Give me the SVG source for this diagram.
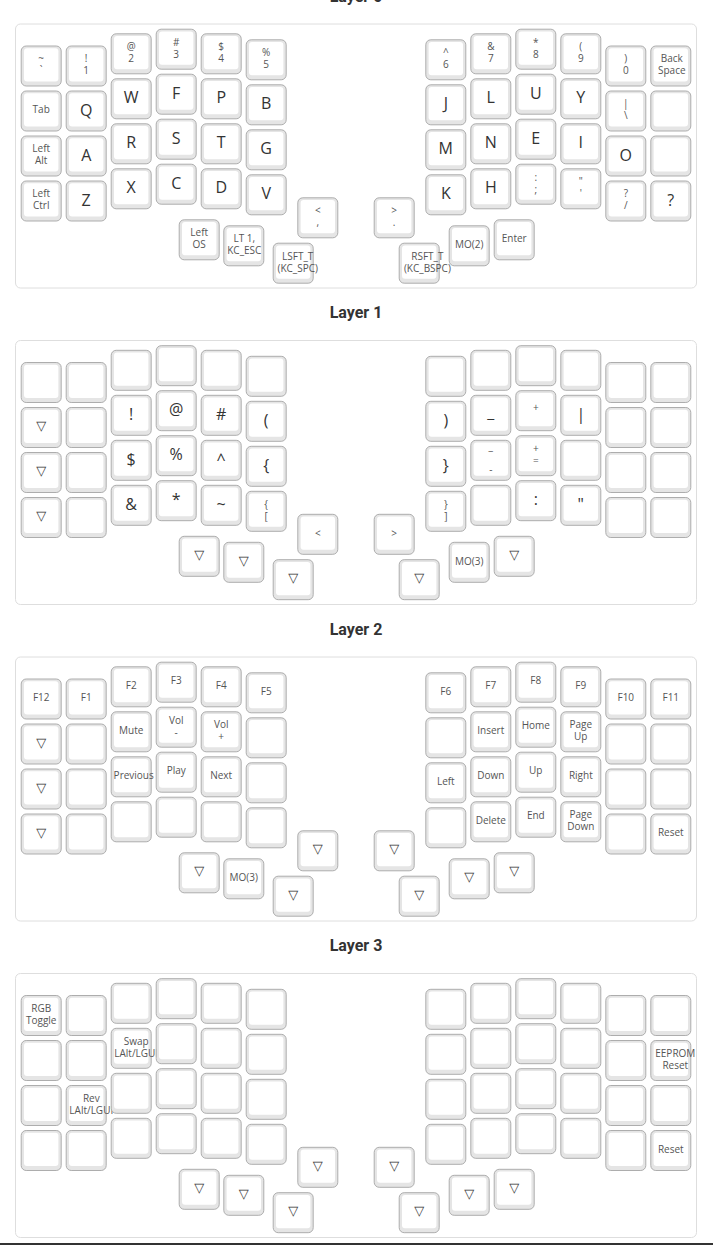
<svg xmlns="http://www.w3.org/2000/svg" xmlns:xlink="http://www.w3.org/1999/xlink" width="713" height="1245" viewBox="0 0 713 1245">
<style>
.panel{fill:#fff;stroke:#dedede;stroke-width:1}
.ko{fill:#e5e5e5;stroke:#adadad;stroke-width:1}
.ki{fill:#fff}
.title{font-family:Roboto,'Liberation Sans',sans-serif;font-weight:bold;font-size:16px;fill:#333;text-anchor:middle}
.lg{font-family:'Open Sans','Liberation Sans',sans-serif;font-size:16px;fill:#333;text-anchor:middle}
.sm{font-family:'Open Sans','Liberation Sans',sans-serif;font-size:10px;fill:#555;text-anchor:middle}
.tri{font-family:'DejaVu Sans',sans-serif;font-size:13px;fill:#333;text-anchor:middle}
</style>
<defs>
<g id="key"><rect class="ko" x="0.5" y="0.5" width="40" height="40" rx="5"/><rect class="ki" x="3.3" y="2.7" width="34.4" height="33.3" rx="3"/></g>
</defs>
<rect x="0" y="1243" width="713" height="2" fill="#333"/>

<g id="layer0">
<text class="title" x="356" y="1.5">Layer 0</text>
<rect class="panel" x="15.5" y="24" width="681" height="264" rx="5"/>
<g id="l0-c1r1" transform="translate(20.7,45.5)"><use href="#key"/><text class="sm" x="20.5" y="16.9">~</text><text class="sm" x="20.5" y="28.9">`</text></g>
<g id="l0-c1r2" transform="translate(20.7,90.5)"><use href="#key"/><text class="sm" x="20.5" y="22.8">Tab</text></g>
<g id="l0-c1r3" transform="translate(20.7,135.5)"><use href="#key"/><text class="sm" x="20.5" y="16.9">Left</text><text class="sm" x="20.5" y="28.9">Alt</text></g>
<g id="l0-c1r4" transform="translate(20.7,180.5)"><use href="#key"/><text class="sm" x="20.5" y="16.9">Left</text><text class="sm" x="20.5" y="28.9">Ctrl</text></g>
<g id="l0-c2r1" transform="translate(65.7,45.5)"><use href="#key"/><text class="sm" x="20.5" y="16.9">!</text><text class="sm" x="20.5" y="28.9">1</text></g>
<g id="l0-c2r2" transform="translate(65.7,90.5)"><use href="#key"/><text class="lg" x="20.5" y="25">Q</text></g>
<g id="l0-c2r3" transform="translate(65.7,135.5)"><use href="#key"/><text class="lg" x="20.5" y="25">A</text></g>
<g id="l0-c2r4" transform="translate(65.7,180.5)"><use href="#key"/><text class="lg" x="20.5" y="25">Z</text></g>
<g id="l0-c3r1" transform="translate(110.7,33.3)"><use href="#key"/><text class="sm" x="20.5" y="16.9">@</text><text class="sm" x="20.5" y="28.9">2</text></g>
<g id="l0-c3r2" transform="translate(110.7,78.3)"><use href="#key"/><text class="lg" x="20.5" y="25">W</text></g>
<g id="l0-c3r3" transform="translate(110.7,123.3)"><use href="#key"/><text class="lg" x="20.5" y="25">R</text></g>
<g id="l0-c3r4" transform="translate(110.7,168.3)"><use href="#key"/><text class="lg" x="20.5" y="25">X</text></g>
<g id="l0-c4r1" transform="translate(155.7,28.7)"><use href="#key"/><text class="sm" x="20.5" y="16.9">#</text><text class="sm" x="20.5" y="28.9">3</text></g>
<g id="l0-c4r2" transform="translate(155.7,73.7)"><use href="#key"/><text class="lg" x="20.5" y="25">F</text></g>
<g id="l0-c4r3" transform="translate(155.7,118.7)"><use href="#key"/><text class="lg" x="20.5" y="25">S</text></g>
<g id="l0-c4r4" transform="translate(155.7,163.7)"><use href="#key"/><text class="lg" x="20.5" y="25">C</text></g>
<g id="l0-c5r1" transform="translate(200.7,33.3)"><use href="#key"/><text class="sm" x="20.5" y="16.9">$</text><text class="sm" x="20.5" y="28.9">4</text></g>
<g id="l0-c5r2" transform="translate(200.7,78.3)"><use href="#key"/><text class="lg" x="20.5" y="25">P</text></g>
<g id="l0-c5r3" transform="translate(200.7,123.3)"><use href="#key"/><text class="lg" x="20.5" y="25">T</text></g>
<g id="l0-c5r4" transform="translate(200.7,168.3)"><use href="#key"/><text class="lg" x="20.5" y="25">D</text></g>
<g id="l0-c6r1" transform="translate(245.7,39.3)"><use href="#key"/><text class="sm" x="20.5" y="16.9">%</text><text class="sm" x="20.5" y="28.9">5</text></g>
<g id="l0-c6r2" transform="translate(245.7,84.3)"><use href="#key"/><text class="lg" x="20.5" y="25">B</text></g>
<g id="l0-c6r3" transform="translate(245.7,129.3)"><use href="#key"/><text class="lg" x="20.5" y="25">G</text></g>
<g id="l0-c6r4" transform="translate(245.7,174.3)"><use href="#key"/><text class="lg" x="20.5" y="25">V</text></g>
<g id="l0-c7r1" transform="translate(425.3,39.3)"><use href="#key"/><text class="sm" x="20.5" y="16.9">^</text><text class="sm" x="20.5" y="28.9">6</text></g>
<g id="l0-c7r2" transform="translate(425.3,84.3)"><use href="#key"/><text class="lg" x="20.5" y="25">J</text></g>
<g id="l0-c7r3" transform="translate(425.3,129.3)"><use href="#key"/><text class="lg" x="20.5" y="25">M</text></g>
<g id="l0-c7r4" transform="translate(425.3,174.3)"><use href="#key"/><text class="lg" x="20.5" y="25">K</text></g>
<g id="l0-c8r1" transform="translate(470.3,33.3)"><use href="#key"/><text class="sm" x="20.5" y="16.9">&amp;</text><text class="sm" x="20.5" y="28.9">7</text></g>
<g id="l0-c8r2" transform="translate(470.3,78.3)"><use href="#key"/><text class="lg" x="20.5" y="25">L</text></g>
<g id="l0-c8r3" transform="translate(470.3,123.3)"><use href="#key"/><text class="lg" x="20.5" y="25">N</text></g>
<g id="l0-c8r4" transform="translate(470.3,168.3)"><use href="#key"/><text class="lg" x="20.5" y="25">H</text></g>
<g id="l0-c9r1" transform="translate(515.3,28.7)"><use href="#key"/><text class="sm" x="20.5" y="16.9">*</text><text class="sm" x="20.5" y="28.9">8</text></g>
<g id="l0-c9r2" transform="translate(515.3,73.7)"><use href="#key"/><text class="lg" x="20.5" y="25">U</text></g>
<g id="l0-c9r3" transform="translate(515.3,118.7)"><use href="#key"/><text class="lg" x="20.5" y="25">E</text></g>
<g id="l0-c9r4" transform="translate(515.3,163.7)"><use href="#key"/><text class="sm" x="20.5" y="16.9">:</text><text class="sm" x="20.5" y="28.9">;</text></g>
<g id="l0-c10r1" transform="translate(560.3,33.3)"><use href="#key"/><text class="sm" x="20.5" y="16.9">(</text><text class="sm" x="20.5" y="28.9">9</text></g>
<g id="l0-c10r2" transform="translate(560.3,78.3)"><use href="#key"/><text class="lg" x="20.5" y="25">Y</text></g>
<g id="l0-c10r3" transform="translate(560.3,123.3)"><use href="#key"/><text class="lg" x="20.5" y="25">I</text></g>
<g id="l0-c10r4" transform="translate(560.3,168.3)"><use href="#key"/><text class="sm" x="20.5" y="16.9">"</text><text class="sm" x="20.5" y="28.9">'</text></g>
<g id="l0-c11r1" transform="translate(605.3,45.5)"><use href="#key"/><text class="sm" x="20.5" y="16.9">)</text><text class="sm" x="20.5" y="28.9">0</text></g>
<g id="l0-c11r2" transform="translate(605.3,90.5)"><use href="#key"/><text class="sm" x="20.5" y="16.9">|</text><text class="sm" x="20.5" y="28.9">\</text></g>
<g id="l0-c11r3" transform="translate(605.3,135.5)"><use href="#key"/><text class="lg" x="20.5" y="25">O</text></g>
<g id="l0-c11r4" transform="translate(605.3,180.5)"><use href="#key"/><text class="sm" x="20.5" y="16.9">?</text><text class="sm" x="20.5" y="28.9">/</text></g>
<g id="l0-c12r1" transform="translate(650.3,45.5)"><use href="#key"/><text class="sm" x="21.5" y="16.9">Back</text><text class="sm" x="21.5" y="28.9">Space</text></g>
<g id="l0-c12r2" transform="translate(650.3,90.5)"><use href="#key"/></g>
<g id="l0-c12r3" transform="translate(650.3,135.5)"><use href="#key"/></g>
<g id="l0-c12r4" transform="translate(650.3,180.5)"><use href="#key"/><text class="lg" x="20.5" y="25">?</text></g>
<g id="l0-t1" transform="translate(178.7,219.3)"><use href="#key"/><text class="sm" x="20.5" y="16.9">Left</text><text class="sm" x="20.5" y="28.9">OS</text></g>
<g id="l0-t2" transform="translate(223.3,225.3)"><use href="#key"/><text class="sm" x="21" y="16.9">LT 1,</text><text class="sm" x="21" y="28.9">KC_ESC</text></g>
<g id="l0-t3" transform="translate(272.7,242.7)"><use href="#key"/><text class="sm" x="25" y="16.9">LSFT_T</text><text class="sm" x="25" y="28.9">(KC_SPC)</text></g>
<g id="l0-t4" transform="translate(297.3,197.3)"><use href="#key"/><text class="sm" x="20.5" y="16.9">&lt;</text><text class="sm" x="20.5" y="28.9">,</text></g>
<g id="l0-t5" transform="translate(373.7,197.3)"><use href="#key"/><text class="sm" x="20.5" y="16.9">&gt;</text><text class="sm" x="20.5" y="28.9">.</text></g>
<g id="l0-t6" transform="translate(398.7,242.7)"><use href="#key"/><text class="sm" x="28.7" y="16.9">RSFT_T</text><text class="sm" x="28.7" y="28.9">(KC_BSPC)</text></g>
<g id="l0-t7" transform="translate(448.7,225.3)"><use href="#key"/><text class="sm" x="20.5" y="22.8">MO(2)</text></g>
<g id="l0-t8" transform="translate(493.7,219.3)"><use href="#key"/><text class="sm" x="20.5" y="22.8">Enter</text></g>
</g>

<g id="layer1" transform="translate(0,316.5)">
<text class="title" x="356" y="1.5">Layer 1</text>
<rect class="panel" x="15.5" y="24" width="681" height="264" rx="5"/>
<g id="l1-c1r1" transform="translate(20.7,45.5)"><use href="#key"/></g>
<g id="l1-c1r2" transform="translate(20.7,90.5)"><use href="#key"/><text class="tri" x="20.5" y="23">▽</text></g>
<g id="l1-c1r3" transform="translate(20.7,135.5)"><use href="#key"/><text class="tri" x="20.5" y="23">▽</text></g>
<g id="l1-c1r4" transform="translate(20.7,180.5)"><use href="#key"/><text class="tri" x="20.5" y="23">▽</text></g>
<g id="l1-c2r1" transform="translate(65.7,45.5)"><use href="#key"/></g>
<g id="l1-c2r2" transform="translate(65.7,90.5)"><use href="#key"/></g>
<g id="l1-c2r3" transform="translate(65.7,135.5)"><use href="#key"/></g>
<g id="l1-c2r4" transform="translate(65.7,180.5)"><use href="#key"/></g>
<g id="l1-c3r1" transform="translate(110.7,33.3)"><use href="#key"/></g>
<g id="l1-c3r2" transform="translate(110.7,78.3)"><use href="#key"/><text class="lg" x="20.5" y="25">!</text></g>
<g id="l1-c3r3" transform="translate(110.7,123.3)"><use href="#key"/><text class="lg" x="20.5" y="25">$</text></g>
<g id="l1-c3r4" transform="translate(110.7,168.3)"><use href="#key"/><text class="lg" x="20.5" y="25">&amp;</text></g>
<g id="l1-c4r1" transform="translate(155.7,28.7)"><use href="#key"/></g>
<g id="l1-c4r2" transform="translate(155.7,73.7)"><use href="#key"/><text class="lg" x="20.5" y="25">@</text></g>
<g id="l1-c4r3" transform="translate(155.7,118.7)"><use href="#key"/><text class="lg" x="20.5" y="25">%</text></g>
<g id="l1-c4r4" transform="translate(155.7,163.7)"><use href="#key"/><text class="lg" x="20.5" y="25">*</text></g>
<g id="l1-c5r1" transform="translate(200.7,33.3)"><use href="#key"/></g>
<g id="l1-c5r2" transform="translate(200.7,78.3)"><use href="#key"/><text class="lg" x="20.5" y="25">#</text></g>
<g id="l1-c5r3" transform="translate(200.7,123.3)"><use href="#key"/><text class="lg" x="20.5" y="25">^</text></g>
<g id="l1-c5r4" transform="translate(200.7,168.3)"><use href="#key"/><text class="lg" x="20.5" y="25">~</text></g>
<g id="l1-c6r1" transform="translate(245.7,39.3)"><use href="#key"/></g>
<g id="l1-c6r2" transform="translate(245.7,84.3)"><use href="#key"/><text class="lg" x="20.5" y="25">(</text></g>
<g id="l1-c6r3" transform="translate(245.7,129.3)"><use href="#key"/><text class="lg" x="20.5" y="25">{</text></g>
<g id="l1-c6r4" transform="translate(245.7,174.3)"><use href="#key"/><text class="sm" x="20.5" y="16.9">{</text><text class="sm" x="20.5" y="28.9">[</text></g>
<g id="l1-c7r1" transform="translate(425.3,39.3)"><use href="#key"/></g>
<g id="l1-c7r2" transform="translate(425.3,84.3)"><use href="#key"/><text class="lg" x="20.5" y="25">)</text></g>
<g id="l1-c7r3" transform="translate(425.3,129.3)"><use href="#key"/><text class="lg" x="20.5" y="25">}</text></g>
<g id="l1-c7r4" transform="translate(425.3,174.3)"><use href="#key"/><text class="sm" x="20.5" y="16.9">}</text><text class="sm" x="20.5" y="28.9">]</text></g>
<g id="l1-c8r1" transform="translate(470.3,33.3)"><use href="#key"/></g>
<g id="l1-c8r2" transform="translate(470.3,78.3)"><use href="#key"/><text class="lg" x="20.5" y="23">_</text></g>
<g id="l1-c8r3" transform="translate(470.3,123.3)"><use href="#key"/><text class="sm" x="20.5" y="10">_</text><text class="sm" x="20.5" y="33">-</text></g>
<g id="l1-c8r4" transform="translate(470.3,168.3)"><use href="#key"/></g>
<g id="l1-c9r1" transform="translate(515.3,28.7)"><use href="#key"/></g>
<g id="l1-c9r2" transform="translate(515.3,73.7)"><use href="#key"/><text class="sm" x="20.5" y="21">+</text></g>
<g id="l1-c9r3" transform="translate(515.3,118.7)"><use href="#key"/><text class="sm" x="20.5" y="16.9">+</text><text class="sm" x="20.5" y="28.9">=</text></g>
<g id="l1-c9r4" transform="translate(515.3,163.7)"><use href="#key"/><text class="lg" x="20.5" y="25">:</text></g>
<g id="l1-c10r1" transform="translate(560.3,33.3)"><use href="#key"/></g>
<g id="l1-c10r2" transform="translate(560.3,78.3)"><use href="#key"/><text class="lg" x="20.5" y="25">|</text></g>
<g id="l1-c10r3" transform="translate(560.3,123.3)"><use href="#key"/></g>
<g id="l1-c10r4" transform="translate(560.3,168.3)"><use href="#key"/><text class="lg" x="20.5" y="25">"</text></g>
<g id="l1-c11r1" transform="translate(605.3,45.5)"><use href="#key"/></g>
<g id="l1-c11r2" transform="translate(605.3,90.5)"><use href="#key"/></g>
<g id="l1-c11r3" transform="translate(605.3,135.5)"><use href="#key"/></g>
<g id="l1-c11r4" transform="translate(605.3,180.5)"><use href="#key"/></g>
<g id="l1-c12r1" transform="translate(650.3,45.5)"><use href="#key"/></g>
<g id="l1-c12r2" transform="translate(650.3,90.5)"><use href="#key"/></g>
<g id="l1-c12r3" transform="translate(650.3,135.5)"><use href="#key"/></g>
<g id="l1-c12r4" transform="translate(650.3,180.5)"><use href="#key"/></g>
<g id="l1-t1" transform="translate(178.7,219.3)"><use href="#key"/><text class="tri" x="20.5" y="23">▽</text></g>
<g id="l1-t2" transform="translate(223.3,225.3)"><use href="#key"/><text class="tri" x="20.5" y="23">▽</text></g>
<g id="l1-t3" transform="translate(272.7,242.7)"><use href="#key"/><text class="tri" x="20.5" y="23">▽</text></g>
<g id="l1-t4" transform="translate(297.3,197.3)"><use href="#key"/><text class="sm" x="20.5" y="22.8">&lt;</text></g>
<g id="l1-t5" transform="translate(373.7,197.3)"><use href="#key"/><text class="sm" x="20.5" y="22.8">&gt;</text></g>
<g id="l1-t6" transform="translate(398.7,242.7)"><use href="#key"/><text class="tri" x="20.5" y="23">▽</text></g>
<g id="l1-t7" transform="translate(448.7,225.3)"><use href="#key"/><text class="sm" x="20.5" y="22.8">MO(3)</text></g>
<g id="l1-t8" transform="translate(493.7,219.3)"><use href="#key"/><text class="tri" x="20.5" y="23">▽</text></g>
</g>

<g id="layer2" transform="translate(0,633)">
<text class="title" x="356" y="1.5">Layer 2</text>
<rect class="panel" x="15.5" y="24" width="681" height="264" rx="5"/>
<g id="l2-c1r1" transform="translate(20.7,45.5)"><use href="#key"/><text class="sm" x="20.5" y="22.8">F12</text></g>
<g id="l2-c1r2" transform="translate(20.7,90.5)"><use href="#key"/><text class="tri" x="20.5" y="23">▽</text></g>
<g id="l2-c1r3" transform="translate(20.7,135.5)"><use href="#key"/><text class="tri" x="20.5" y="23">▽</text></g>
<g id="l2-c1r4" transform="translate(20.7,180.5)"><use href="#key"/><text class="tri" x="20.5" y="23">▽</text></g>
<g id="l2-c2r1" transform="translate(65.7,45.5)"><use href="#key"/><text class="sm" x="20.5" y="22.8">F1</text></g>
<g id="l2-c2r2" transform="translate(65.7,90.5)"><use href="#key"/></g>
<g id="l2-c2r3" transform="translate(65.7,135.5)"><use href="#key"/></g>
<g id="l2-c2r4" transform="translate(65.7,180.5)"><use href="#key"/></g>
<g id="l2-c3r1" transform="translate(110.7,33.3)"><use href="#key"/><text class="sm" x="20.5" y="22.8">F2</text></g>
<g id="l2-c3r2" transform="translate(110.7,78.3)"><use href="#key"/><text class="sm" x="20.5" y="22.8">Mute</text></g>
<g id="l2-c3r3" transform="translate(110.7,123.3)"><use href="#key"/><text class="sm" x="23" y="22.8">Previous</text></g>
<g id="l2-c3r4" transform="translate(110.7,168.3)"><use href="#key"/></g>
<g id="l2-c4r1" transform="translate(155.7,28.7)"><use href="#key"/><text class="sm" x="20.5" y="22.8">F3</text></g>
<g id="l2-c4r2" transform="translate(155.7,73.7)"><use href="#key"/><text class="sm" x="20.5" y="16.9">Vol</text><text class="sm" x="20.5" y="28.9">-</text></g>
<g id="l2-c4r3" transform="translate(155.7,118.7)"><use href="#key"/><text class="sm" x="20.5" y="22.8">Play</text></g>
<g id="l2-c4r4" transform="translate(155.7,163.7)"><use href="#key"/></g>
<g id="l2-c5r1" transform="translate(200.7,33.3)"><use href="#key"/><text class="sm" x="20.5" y="22.8">F4</text></g>
<g id="l2-c5r2" transform="translate(200.7,78.3)"><use href="#key"/><text class="sm" x="20.5" y="16.9">Vol</text><text class="sm" x="20.5" y="28.9">+</text></g>
<g id="l2-c5r3" transform="translate(200.7,123.3)"><use href="#key"/><text class="sm" x="20.5" y="22.8">Next</text></g>
<g id="l2-c5r4" transform="translate(200.7,168.3)"><use href="#key"/></g>
<g id="l2-c6r1" transform="translate(245.7,39.3)"><use href="#key"/><text class="sm" x="20.5" y="22.8">F5</text></g>
<g id="l2-c6r2" transform="translate(245.7,84.3)"><use href="#key"/></g>
<g id="l2-c6r3" transform="translate(245.7,129.3)"><use href="#key"/></g>
<g id="l2-c6r4" transform="translate(245.7,174.3)"><use href="#key"/></g>
<g id="l2-c7r1" transform="translate(425.3,39.3)"><use href="#key"/><text class="sm" x="20.5" y="22.8">F6</text></g>
<g id="l2-c7r2" transform="translate(425.3,84.3)"><use href="#key"/></g>
<g id="l2-c7r3" transform="translate(425.3,129.3)"><use href="#key"/><text class="sm" x="20.5" y="22.8">Left</text></g>
<g id="l2-c7r4" transform="translate(425.3,174.3)"><use href="#key"/></g>
<g id="l2-c8r1" transform="translate(470.3,33.3)"><use href="#key"/><text class="sm" x="20.5" y="22.8">F7</text></g>
<g id="l2-c8r2" transform="translate(470.3,78.3)"><use href="#key"/><text class="sm" x="20.5" y="22.8">Insert</text></g>
<g id="l2-c8r3" transform="translate(470.3,123.3)"><use href="#key"/><text class="sm" x="20.5" y="22.8">Down</text></g>
<g id="l2-c8r4" transform="translate(470.3,168.3)"><use href="#key"/><text class="sm" x="20.5" y="22.8">Delete</text></g>
<g id="l2-c9r1" transform="translate(515.3,28.7)"><use href="#key"/><text class="sm" x="20.5" y="22.8">F8</text></g>
<g id="l2-c9r2" transform="translate(515.3,73.7)"><use href="#key"/><text class="sm" x="20.5" y="22.8">Home</text></g>
<g id="l2-c9r3" transform="translate(515.3,118.7)"><use href="#key"/><text class="sm" x="20.5" y="22.8">Up</text></g>
<g id="l2-c9r4" transform="translate(515.3,163.7)"><use href="#key"/><text class="sm" x="20.5" y="22.8">End</text></g>
<g id="l2-c10r1" transform="translate(560.3,33.3)"><use href="#key"/><text class="sm" x="20.5" y="22.8">F9</text></g>
<g id="l2-c10r2" transform="translate(560.3,78.3)"><use href="#key"/><text class="sm" x="20.5" y="16.9">Page</text><text class="sm" x="20.5" y="28.9">Up</text></g>
<g id="l2-c10r3" transform="translate(560.3,123.3)"><use href="#key"/><text class="sm" x="20.5" y="22.8">Right</text></g>
<g id="l2-c10r4" transform="translate(560.3,168.3)"><use href="#key"/><text class="sm" x="20.5" y="16.9">Page</text><text class="sm" x="20.5" y="28.9">Down</text></g>
<g id="l2-c11r1" transform="translate(605.3,45.5)"><use href="#key"/><text class="sm" x="20.5" y="22.8">F10</text></g>
<g id="l2-c11r2" transform="translate(605.3,90.5)"><use href="#key"/></g>
<g id="l2-c11r3" transform="translate(605.3,135.5)"><use href="#key"/></g>
<g id="l2-c11r4" transform="translate(605.3,180.5)"><use href="#key"/></g>
<g id="l2-c12r1" transform="translate(650.3,45.5)"><use href="#key"/><text class="sm" x="20.5" y="22.8">F11</text></g>
<g id="l2-c12r2" transform="translate(650.3,90.5)"><use href="#key"/></g>
<g id="l2-c12r3" transform="translate(650.3,135.5)"><use href="#key"/></g>
<g id="l2-c12r4" transform="translate(650.3,180.5)"><use href="#key"/><text class="sm" x="20.5" y="22.8">Reset</text></g>
<g id="l2-t1" transform="translate(178.7,219.3)"><use href="#key"/><text class="tri" x="20.5" y="23">▽</text></g>
<g id="l2-t2" transform="translate(223.3,225.3)"><use href="#key"/><text class="sm" x="20.5" y="22.8">MO(3)</text></g>
<g id="l2-t3" transform="translate(272.7,242.7)"><use href="#key"/><text class="tri" x="20.5" y="23">▽</text></g>
<g id="l2-t4" transform="translate(297.3,197.3)"><use href="#key"/><text class="tri" x="20.5" y="23">▽</text></g>
<g id="l2-t5" transform="translate(373.7,197.3)"><use href="#key"/><text class="tri" x="20.5" y="23">▽</text></g>
<g id="l2-t6" transform="translate(398.7,242.7)"><use href="#key"/><text class="tri" x="20.5" y="23">▽</text></g>
<g id="l2-t7" transform="translate(448.7,225.3)"><use href="#key"/><text class="tri" x="20.5" y="23">▽</text></g>
<g id="l2-t8" transform="translate(493.7,219.3)"><use href="#key"/><text class="tri" x="20.5" y="23">▽</text></g>
</g>

<g id="layer3" transform="translate(0,949.5)">
<text class="title" x="356" y="1.5">Layer 3</text>
<rect class="panel" x="15.5" y="24" width="681" height="264" rx="5"/>
<g id="l3-c1r1" transform="translate(20.7,45.5)"><use href="#key"/><text class="sm" x="20.5" y="16.9">RGB</text><text class="sm" x="20.5" y="28.9">Toggle</text></g>
<g id="l3-c1r2" transform="translate(20.7,90.5)"><use href="#key"/></g>
<g id="l3-c1r3" transform="translate(20.7,135.5)"><use href="#key"/></g>
<g id="l3-c1r4" transform="translate(20.7,180.5)"><use href="#key"/></g>
<g id="l3-c2r1" transform="translate(65.7,45.5)"><use href="#key"/></g>
<g id="l3-c2r2" transform="translate(65.7,90.5)"><use href="#key"/></g>
<g id="l3-c2r3" transform="translate(65.7,135.5)"><use href="#key"/><text class="sm" x="25.6" y="16.9">Rev</text><text class="sm" x="25.6" y="28.9">LAlt/LGUI</text></g>
<g id="l3-c2r4" transform="translate(65.7,180.5)"><use href="#key"/></g>
<g id="l3-c3r1" transform="translate(110.7,33.3)"><use href="#key"/></g>
<g id="l3-c3r2" transform="translate(110.7,78.3)"><use href="#key"/><text class="sm" x="25.5" y="16.9">Swap</text><text class="sm" x="25.5" y="28.9">LAlt/LGUI</text></g>
<g id="l3-c3r3" transform="translate(110.7,123.3)"><use href="#key"/></g>
<g id="l3-c3r4" transform="translate(110.7,168.3)"><use href="#key"/></g>
<g id="l3-c4r1" transform="translate(155.7,28.7)"><use href="#key"/></g>
<g id="l3-c4r2" transform="translate(155.7,73.7)"><use href="#key"/></g>
<g id="l3-c4r3" transform="translate(155.7,118.7)"><use href="#key"/></g>
<g id="l3-c4r4" transform="translate(155.7,163.7)"><use href="#key"/></g>
<g id="l3-c5r1" transform="translate(200.7,33.3)"><use href="#key"/></g>
<g id="l3-c5r2" transform="translate(200.7,78.3)"><use href="#key"/></g>
<g id="l3-c5r3" transform="translate(200.7,123.3)"><use href="#key"/></g>
<g id="l3-c5r4" transform="translate(200.7,168.3)"><use href="#key"/></g>
<g id="l3-c6r1" transform="translate(245.7,39.3)"><use href="#key"/></g>
<g id="l3-c6r2" transform="translate(245.7,84.3)"><use href="#key"/></g>
<g id="l3-c6r3" transform="translate(245.7,129.3)"><use href="#key"/></g>
<g id="l3-c6r4" transform="translate(245.7,174.3)"><use href="#key"/></g>
<g id="l3-c7r1" transform="translate(425.3,39.3)"><use href="#key"/></g>
<g id="l3-c7r2" transform="translate(425.3,84.3)"><use href="#key"/></g>
<g id="l3-c7r3" transform="translate(425.3,129.3)"><use href="#key"/></g>
<g id="l3-c7r4" transform="translate(425.3,174.3)"><use href="#key"/></g>
<g id="l3-c8r1" transform="translate(470.3,33.3)"><use href="#key"/></g>
<g id="l3-c8r2" transform="translate(470.3,78.3)"><use href="#key"/></g>
<g id="l3-c8r3" transform="translate(470.3,123.3)"><use href="#key"/></g>
<g id="l3-c8r4" transform="translate(470.3,168.3)"><use href="#key"/></g>
<g id="l3-c9r1" transform="translate(515.3,28.7)"><use href="#key"/></g>
<g id="l3-c9r2" transform="translate(515.3,73.7)"><use href="#key"/></g>
<g id="l3-c9r3" transform="translate(515.3,118.7)"><use href="#key"/></g>
<g id="l3-c9r4" transform="translate(515.3,163.7)"><use href="#key"/></g>
<g id="l3-c10r1" transform="translate(560.3,33.3)"><use href="#key"/></g>
<g id="l3-c10r2" transform="translate(560.3,78.3)"><use href="#key"/></g>
<g id="l3-c10r3" transform="translate(560.3,123.3)"><use href="#key"/></g>
<g id="l3-c10r4" transform="translate(560.3,168.3)"><use href="#key"/></g>
<g id="l3-c11r1" transform="translate(605.3,45.5)"><use href="#key"/></g>
<g id="l3-c11r2" transform="translate(605.3,90.5)"><use href="#key"/></g>
<g id="l3-c11r3" transform="translate(605.3,135.5)"><use href="#key"/></g>
<g id="l3-c11r4" transform="translate(605.3,180.5)"><use href="#key"/></g>
<g id="l3-c12r1" transform="translate(650.3,45.5)"><use href="#key"/></g>
<g id="l3-c12r2" transform="translate(650.3,90.5)"><use href="#key"/><text class="sm" x="25" y="16.9">EEPROM</text><text class="sm" x="25" y="28.9">Reset</text></g>
<g id="l3-c12r3" transform="translate(650.3,135.5)"><use href="#key"/></g>
<g id="l3-c12r4" transform="translate(650.3,180.5)"><use href="#key"/><text class="sm" x="20.5" y="22.8">Reset</text></g>
<g id="l3-t1" transform="translate(178.7,219.3)"><use href="#key"/><text class="tri" x="20.5" y="23">▽</text></g>
<g id="l3-t2" transform="translate(223.3,225.3)"><use href="#key"/><text class="tri" x="20.5" y="23">▽</text></g>
<g id="l3-t3" transform="translate(272.7,242.7)"><use href="#key"/><text class="tri" x="20.5" y="23">▽</text></g>
<g id="l3-t4" transform="translate(297.3,197.3)"><use href="#key"/><text class="tri" x="20.5" y="23">▽</text></g>
<g id="l3-t5" transform="translate(373.7,197.3)"><use href="#key"/><text class="tri" x="20.5" y="23">▽</text></g>
<g id="l3-t6" transform="translate(398.7,242.7)"><use href="#key"/><text class="tri" x="20.5" y="23">▽</text></g>
<g id="l3-t7" transform="translate(448.7,225.3)"><use href="#key"/><text class="tri" x="20.5" y="23">▽</text></g>
<g id="l3-t8" transform="translate(493.7,219.3)"><use href="#key"/><text class="tri" x="20.5" y="23">▽</text></g>
</g>
</svg>
